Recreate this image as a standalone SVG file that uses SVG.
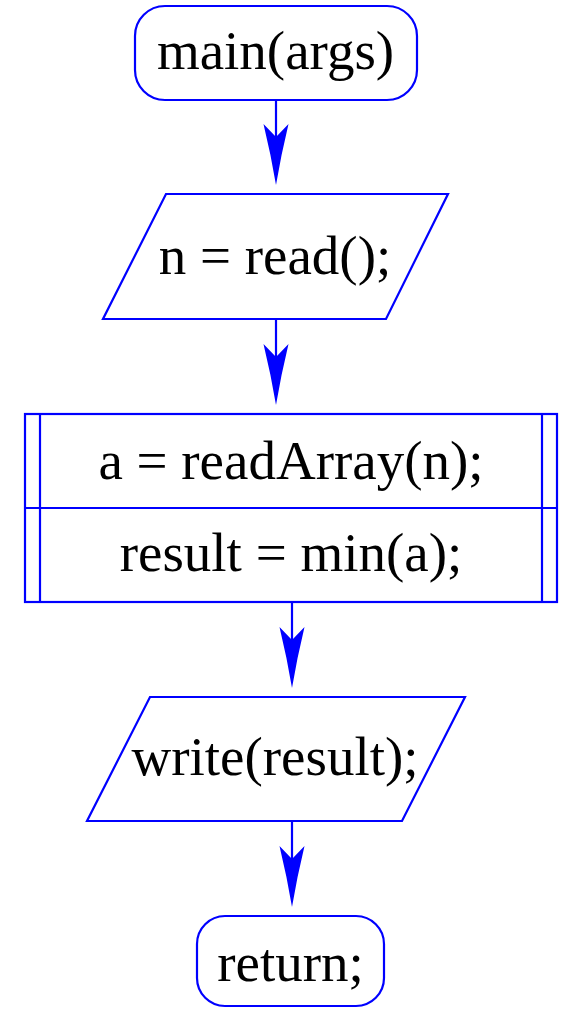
<svg xmlns="http://www.w3.org/2000/svg" width="566" height="1011" viewBox="0 0 566 1011">
  <style>
    .shape { fill: #ffffff; stroke: #0000ff; stroke-width: 2.2; }
    .rule { fill: none; stroke: #0000ff; stroke-width: 2.2; }
    .label { font-family: "Liberation Serif", "Times New Roman", serif; font-size: 55px; fill: #000000; text-anchor: middle; }
    .edge { fill: none; stroke: #0000ff; stroke-width: 2.2; }
    .head { fill: #0000ff; }
  </style>
  <defs>
    <!-- arrowhead pointing down, tip at origin, slightly concave flanks -->
    <path id="head" d="M0,0 Q-5,-30 -12.5,-61 L0,-48 L12.5,-61 Q5,-30 0,0 Z"/>
  </defs>

  <g id="connectors">
    <path class="edge" d="M276,100 V140"/>
    <use class="head" href="#head" x="276" y="185"/>
    <path class="edge" d="M276,319 V360"/>
    <use class="head" href="#head" x="276" y="405"/>
    <path class="edge" d="M292,602 V643"/>
    <use class="head" href="#head" x="292" y="688"/>
    <path class="edge" d="M292,821 V862"/>
    <use class="head" href="#head" x="292" y="907"/>
  </g>

  <g id="start">
    <rect class="shape" x="135" y="6" width="282" height="94" rx="30" ry="30"/>
    <text class="label" x="275.5" y="69">main(args)</text>
  </g>

  <g id="input-n">
    <polygon class="shape" points="166,194 448,194 386,319 103,319"/>
    <text class="label" x="275" y="274">n = read();</text>
  </g>

  <g id="process-block">
    <rect class="shape" x="25" y="414" width="532" height="188"/>
    <line class="rule" x1="25" y1="508" x2="557" y2="508"/>
    <line class="rule" x1="40" y1="414" x2="40" y2="602"/>
    <line class="rule" x1="542" y1="414" x2="542" y2="602"/>
    <text class="label" x="291" y="479">a = readArray(n);</text>
    <text class="label" x="291" y="571">result = min(a);</text>
  </g>

  <g id="output-result">
    <polygon class="shape" points="150,697 465,697 402,821 87,821"/>
    <text class="label" x="275" y="775">write(result);</text>
  </g>

  <g id="end">
    <rect class="shape" x="197" y="916" width="187" height="90" rx="28" ry="28"/>
    <text class="label" x="290.5" y="981">return;</text>
  </g>
</svg>
